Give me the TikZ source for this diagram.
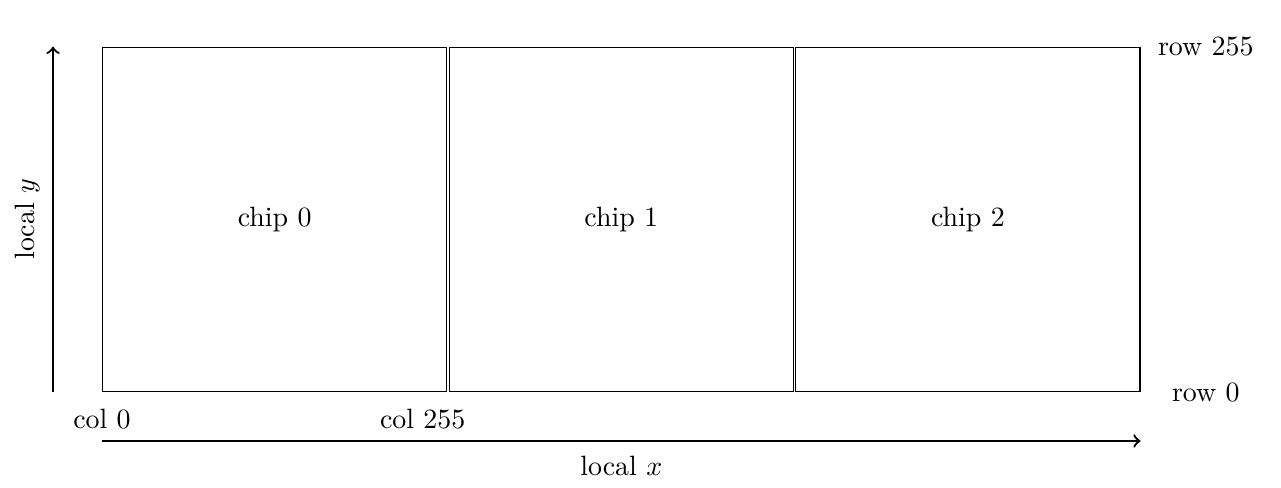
\documentclass[tikz,border=0pt]{standalone}
\usetikzlibrary{positioning, calc}
\begin{document}
\begin{tikzpicture}[
		chip/.style={
				draw,
				thin,
				minimum width=4.33cm,
				minimum height=4.33cm,
				inner sep=0pt,
				anchor=south west,
				text centered,
			},
		axisarrow/.style={
				->, thick,
			},
		ticklabel/.style={
				anchor=base,
			},
	]

	% Rand des Bildes festlegen
	\useasboundingbox (-1.283,-1.195) rectangle (14.83,4.931);

	% Abstand der Chips (Breite plus kleine Lücke)
	\def\chippitch{4.36}

	% Drei Chips nebeneinander
	\foreach \i in {0,1,2} {
			\node[chip] (chip\i) at (\i*\chippitch,0) {chip \i};
		}

	% Spaltenbeschriftung unter Chip 0
	\node[ticklabel] (col0) at ($(chip0.south west)+(0,-0.453)$) {col 0};
	\node[ticklabel] (col255) at ($(chip0.south east)+(-0.31,-0.453)$) {col 255};

	% Zeilenbeschriftung rechts
	\node (row255) at ($(chip2.north east)+(0.82,0)$) {row 255};
	\node (row0) at ($(chip2.south east)+(0.82,0)$) {row 0};

	% Achse x
	\coordinate (xstart) at ($(chip0.south west)+(0,-0.616)$);
	\coordinate (xend) at ($(chip2.south east)+(0,-0.616)$);
	\draw[axisarrow] (xstart) -- (xend);
	\node[ticklabel] (localx) at ($($(xstart)!0.5!(xend)$)+(0,-0.428)$) {local $x$};

	% Achse y
	\coordinate (ystart) at ($(chip0.south west)+(-0.616,0)$);
	\coordinate (yend) at ($(chip0.north west)+(-0.616,0)$);
	\draw[axisarrow] (ystart) -- (yend);
	\node[ticklabel, rotate=90] (localy) at ($($(ystart)!0.5!(yend)$)+(-0.239,0)$) {local $y$};

\end{tikzpicture}
\end{document}
